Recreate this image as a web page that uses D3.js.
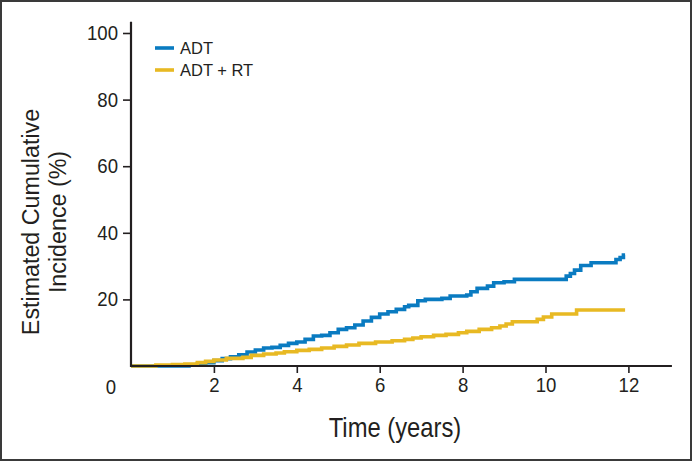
<!DOCTYPE html>
<html>
<head>
<meta charset="utf-8">
<script src="https://cdn.jsdelivr.net/npm/d3@7"></script>
<style>
  html, body { margin: 0; padding: 0; background: #fff; }
  svg text { font-family: "Liberation Sans", Arial, sans-serif; fill: #231f20; }
</style>
</head>
<body>
<svg id="chart" width="692" height="461"></svg>
<script>
// ---- data ----
const seriesNames = ["ADT", "ADT + RT"];
const seriesColors = ["#0a7bc1", "#e8b923"];
const adtTime = [0, 1.2, 1.4, 1.6, 1.8, 2.0, 2.2, 2.4, 2.6, 2.8, 3.0, 3.2, 3.4, 3.6, 3.8, 4.0, 4.2, 4.4, 4.6, 4.8, 5.0, 5.2, 5.4, 5.6, 5.8, 6.0, 6.2, 6.4, 6.6, 6.7, 6.92, 7.1, 7.5, 7.7, 8.1, 8.2, 8.35, 8.6, 8.75, 9.0, 9.25, 10.5, 10.6, 10.7, 10.85, 11.1, 11.7, 11.8, 11.88, 11.92];
const adtValue = [0, 0, 0.3, 0.6, 1.0, 1.6, 2.2, 2.8, 3.4, 4.2, 4.8, 5.4, 5.6, 6.2, 6.8, 7.2, 8.0, 9.0, 9.2, 10.0, 11.0, 11.5, 12.3, 13.5, 14.6, 15.6, 16.3, 17.0, 17.8, 18.2, 19.6, 20.0, 20.3, 21.0, 21.3, 22.3, 23.3, 24.0, 25.0, 25.3, 26.0, 27.0, 27.8, 28.8, 30.2, 31.0, 32.0, 32.6, 33.3, 33.3];
const rtTime = [0, 0.6, 1.0, 1.3, 1.6, 1.8, 2.0, 2.3, 2.7, 2.9, 3.2, 3.5, 3.7, 4.0, 4.3, 4.6, 4.9, 5.2, 5.5, 5.9, 6.3, 6.6, 6.8, 7.0, 7.3, 7.6, 7.9, 8.1, 8.4, 8.7, 8.9, 9.05, 9.2, 9.8, 9.95, 10.15, 10.75, 11.92];
const rtValue = [0, 0.3, 0.4, 0.6, 1.0, 1.4, 1.8, 2.3, 2.6, 3.2, 3.6, 3.9, 4.3, 4.7, 5.0, 5.4, 5.9, 6.3, 6.8, 7.2, 7.6, 8.0, 8.4, 8.8, 9.2, 9.5, 10.0, 10.4, 11.0, 11.5, 12.0, 12.6, 13.3, 14.0, 14.7, 15.6, 16.8, 16.8];
const xTicks = [2, 4, 6, 8, 10, 12];
const yTicks = [20, 40, 60, 80, 100];
const xTitle = "Time (years)";
const yTitleLines = ["Estimated Cumulative", "Incidence (%)"];

// ---- chart ----
const svg = d3.select("#chart");
const W = 692, H = 461;
const x = d3.scaleLinear().domain([0, 12]).range([131, 628.4]);
const y = d3.scaleLinear().domain([0, 100]).range([366, 33]);
const axisColor = "#231f20";

// horizontally condense a text element about its own x anchor
function narrow(sel, s) {
  sel.each(function () {
    const t = d3.select(this);
    const ax = +(t.attr("x") || 0);
    const prev = t.attr("transform") || "";
    t.attr("transform", `${prev} translate(${ax},0) scale(${s},1) translate(${-ax},0)`);
  });
}

// frame
svg.append("rect").attr("x", 1).attr("y", 1).attr("width", W - 2).attr("height", H - 2)
  .attr("fill", "none").attr("stroke", "#3a3a3a").attr("stroke-width", 2);

// lines
const series = [
  { name: seriesNames[0], color: seriesColors[0], pts: adtTime.map((t, i) => [t, adtValue[i]]) },
  { name: seriesNames[1], color: seriesColors[1], pts: rtTime.map((t, i) => [t, rtValue[i]]) }
];
const line = d3.line().x(d => x(d[0])).y(d => y(d[1])).curve(d3.curveStepAfter);
svg.append("g").selectAll("path").data(series).join("path")
  .attr("d", d => line(d.pts))
  .attr("fill", "none")
  .attr("stroke", d => d.color)
  .attr("stroke-width", 3.6)
  .attr("stroke-linejoin", "miter");

// x axis
const xAxis = svg.append("g").attr("transform", `translate(0,${y(0)})`)
  .call(d3.axisBottom(x).tickValues(xTicks).tickSize(7).tickPadding(5).tickFormat(d3.format("d")));
xAxis.select(".domain").remove();
xAxis.append("line").attr("x1", x(0) - 1).attr("x2", x(13.05)).attr("y1", 0).attr("y2", 0)
  .attr("stroke", axisColor).attr("stroke-width", 2.2);
xAxis.selectAll(".tick line").attr("stroke", axisColor).attr("stroke-width", 1.6);
xAxis.selectAll(".tick text").attr("font-size", 20).attr("fill", axisColor).call(narrow, 0.93);

// y axis
const yAxis = svg.append("g").attr("transform", `translate(${x(0)},0)`)
  .call(d3.axisLeft(y).tickValues(yTicks).tickSize(8).tickPadding(5).tickFormat(d3.format("d")));
yAxis.select(".domain").remove();
yAxis.append("line").attr("x1", 0).attr("x2", 0).attr("y1", y(0) + 1).attr("y2", y(103.4))
  .attr("stroke", axisColor).attr("stroke-width", 2.2);
yAxis.selectAll(".tick line").attr("stroke", axisColor).attr("stroke-width", 1.6);
yAxis.selectAll(".tick text").attr("font-size", 20).attr("fill", axisColor).call(narrow, 0.93);

// origin label
svg.append("text").attr("x", 111).attr("y", 394).attr("text-anchor", "middle")
  .attr("font-size", 20).text("0").call(narrow, 0.93);

// x title
svg.append("text").attr("x", 395).attr("y", 437).attr("text-anchor", "middle")
  .attr("font-size", 28).text(xTitle).call(narrow, 0.85);

// y title
const yt = svg.append("text").attr("transform", "translate(39,222) rotate(-90) scale(0.97,1)")
  .attr("text-anchor", "middle").attr("font-size", 24);
yt.selectAll("tspan").data(yTitleLines).join("tspan")
  .attr("x", 0).attr("dy", (d, i) => i === 0 ? 0 : 27).text(d => d);

// legend
const lg = svg.append("g");
series.forEach((s, i) => {
  const ly = 48 + i * 22;
  lg.append("line").attr("x1", 155).attr("x2", 174).attr("y1", ly).attr("y2", ly)
    .attr("stroke", s.color).attr("stroke-width", 3.6);
  lg.append("text").attr("x", 180).attr("y", ly + 6).attr("font-size", 16.5).text(s.name);
});
</script>
</body>
</html>
